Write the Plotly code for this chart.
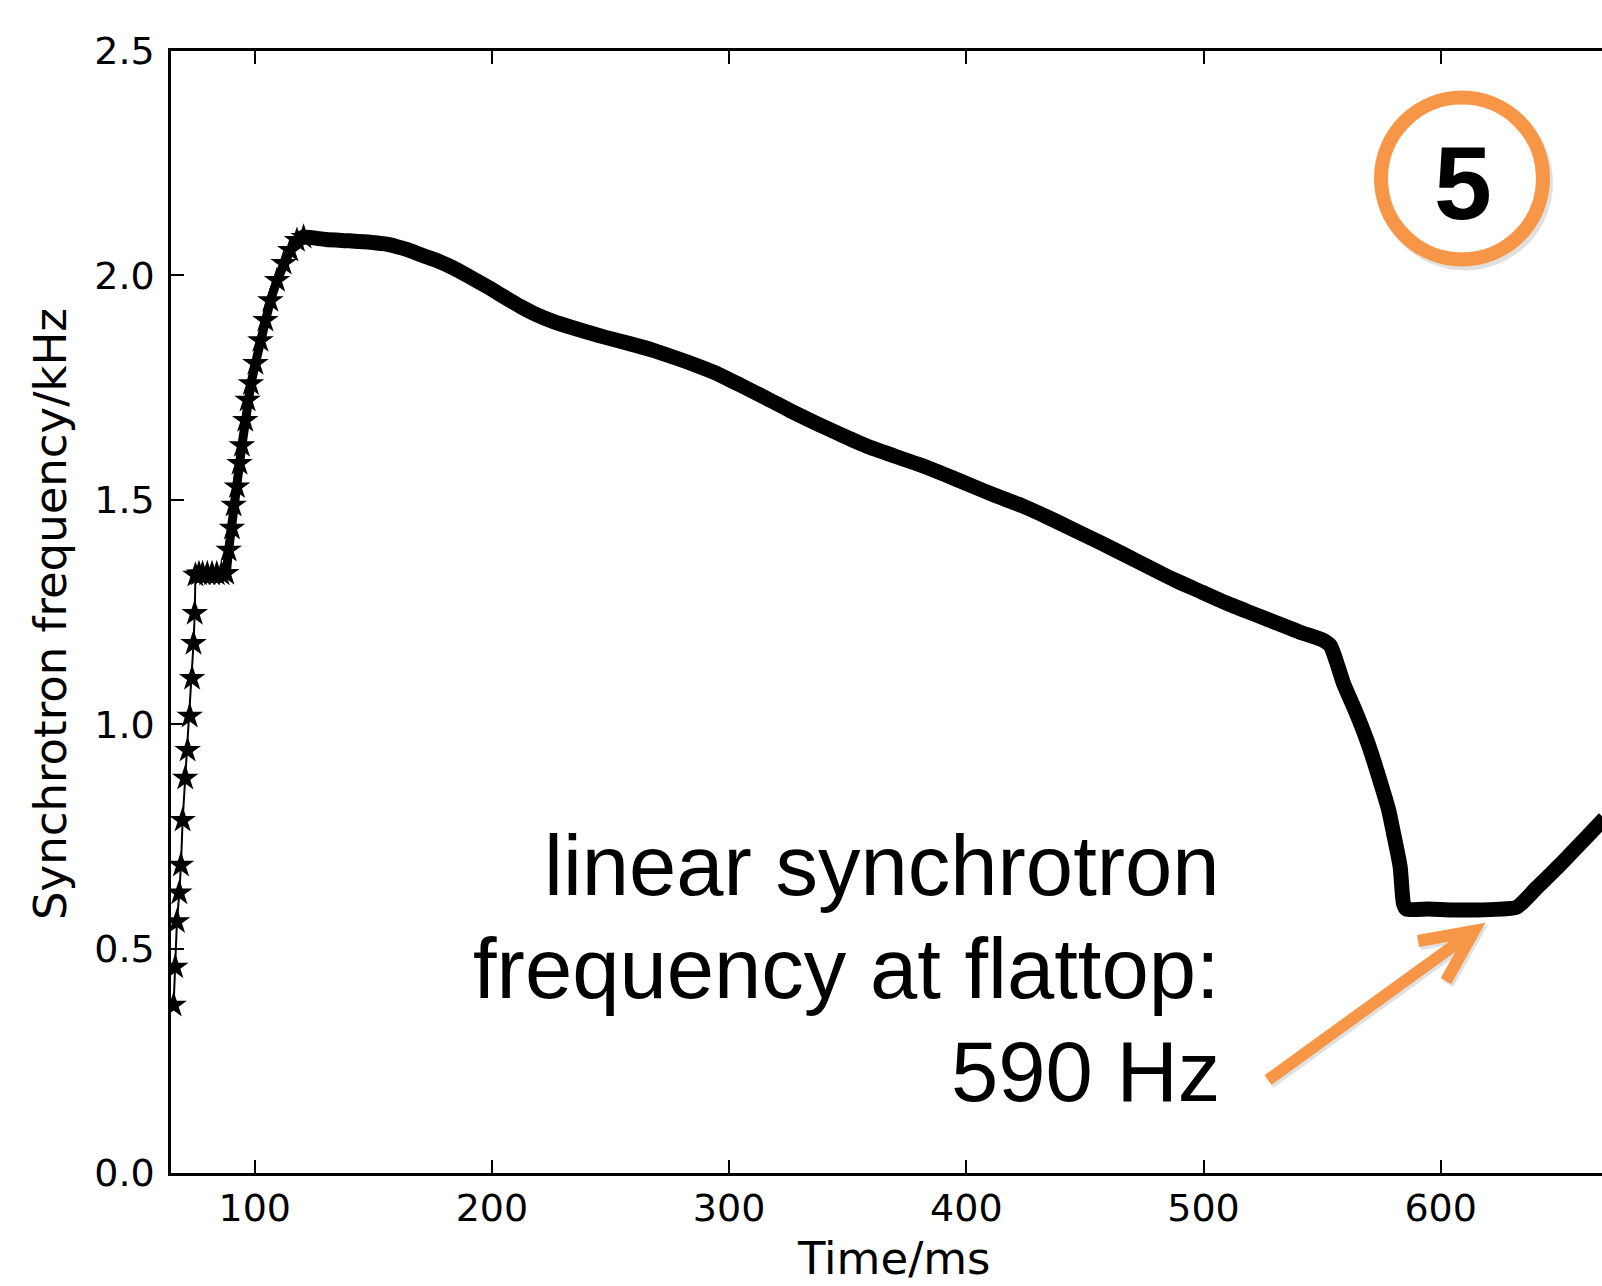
import plotly.graph_objects as go

# ---- data ----
time_ms = [65.8, 66.5, 67.2, 68.2, 68.9, 69.6, 70.7, 71.7, 72.6, 73.6, 74.2, 74.7, 75.0,
           76.5, 78.0, 80.0, 82.0, 84.0, 86.0, 88.0,
           89.0, 90.4, 91.1, 92.5, 93.6, 94.6, 96.0, 97.0, 98.4, 100.3, 102.4, 104.5,
           106.6, 109.4, 112.2, 115.0, 117.8, 120.6,
           130.0, 140.0, 148.7, 155.0, 160.0, 164.0, 168.0, 172.0, 176.8, 184.0, 190.9, 198.0,
           204.9, 212.0, 219.0, 226.0, 233.0, 240.0, 247.1, 258.0, 268.1, 277.0, 286.0,
           294.2, 305.0, 315.8, 326.0, 337.3, 348.0, 358.8, 370.0, 380.4, 391.0, 401.9,
           412.0, 423.4, 434.0, 445.0, 456.0, 466.5, 477.0, 488.0, 499.0, 509.6, 520.0,
           531.1, 540.7, 550.5, 553.5, 556.0, 559.0, 564.0, 568.9, 572.0, 575.2, 578.0,
           580.1, 582.9, 584.3, 585.5, 595.0, 605.0, 615.0, 625.0, 632.0, 640.0, 650.0,
           660.0, 669.0]
freq_khz = [0.374, 0.459, 0.560, 0.624, 0.686, 0.786, 0.880, 0.942, 1.018, 1.102, 1.180, 1.247, 1.332,
            1.335, 1.335, 1.335, 1.335, 1.335, 1.335, 1.336,
            1.388, 1.437, 1.488, 1.529, 1.581, 1.621, 1.677, 1.722, 1.759, 1.804, 1.855, 1.900,
            1.944, 1.989, 2.027, 2.056, 2.078, 2.085,
            2.080, 2.077, 2.074, 2.070, 2.064, 2.058, 2.050, 2.042, 2.033, 2.016, 1.996, 1.975,
            1.953, 1.931, 1.912, 1.897, 1.885, 1.874, 1.863, 1.848, 1.833, 1.817, 1.800,
            1.783, 1.755, 1.726, 1.698, 1.669, 1.643, 1.618, 1.597, 1.578, 1.556, 1.532,
            1.510, 1.487, 1.462, 1.434, 1.406, 1.378, 1.350, 1.321, 1.295, 1.270, 1.248,
            1.225, 1.205, 1.187, 1.175, 1.140, 1.091, 1.030, 0.964, 0.915, 0.860, 0.810,
            0.757, 0.682, 0.600, 0.588, 0.588, 0.586, 0.586, 0.588, 0.592, 0.633, 0.685,
            0.740, 0.790]

x_ticks = [100, 200, 300, 400, 500, 600]
y_ticks = [0.0, 0.5, 1.0, 1.5, 2.0, 2.5]
x_title = "Time/ms"
y_title = "Synchrotron frequency/kHz"
note_lines = ["linear synchrotron", "frequency at flattop:", "590 Hz"]
badge = "5"

# ---- layout geometry (pixels) ----
W, H = 1602, 1286
L, R, T, B = 171, 0, 51, 113
PW, PH = W - L - R, H - T - B
ORANGE = "#F79646"


def px(xp):
    return (xp - L) / PW


def py(yp):
    return (H - B - yp) / PH


fig = go.Figure()

early = [i for i, t in enumerate(time_ms) if t <= 75.0]
ramp = [i for i, t in enumerate(time_ms) if 75.0 <= t <= 120.6]
main = [i for i, t in enumerate(time_ms) if t >= 117.8]

fig.add_trace(go.Scatter(
    x=[time_ms[i] for i in ramp], y=[freq_khz[i] for i in ramp],
    mode="lines", line=dict(color="black", width=9), hoverinfo="skip"))
fig.add_trace(go.Scatter(
    x=[time_ms[i] for i in main], y=[freq_khz[i] for i in main],
    mode="lines", line=dict(color="black", width=15, shape="spline", smoothing=0.6),
    hoverinfo="skip"))
stars = early + ramp[1:]
fig.add_trace(go.Scatter(
    x=[time_ms[i] for i in stars], y=[freq_khz[i] for i in stars],
    mode="lines+markers", line=dict(color="black", width=2),
    marker=dict(symbol="star", size=20, color="black")))

# ---- decorations: badge circle and arrow ----
cx, cy, rr = 1462, 178.5, 81
shapes = [
    dict(type="circle", xref="paper", yref="paper",
         x0=px(cx - rr + 3), x1=px(cx + rr + 3), y0=py(cy + rr + 4), y1=py(cy - rr + 4),
         line=dict(color="rgba(0,0,0,0.12)", width=14)),
    dict(type="circle", xref="paper", yref="paper",
         x0=px(cx - rr), x1=px(cx + rr), y0=py(cy + rr), y1=py(cy - rr),
         line=dict(color=ORANGE, width=14), fillcolor="white"),
]
tail, head = (1268, 1080), (1474, 931)
barb1, barb2 = (1418, 941), (1446, 981)


def arrow_path(dx=0, dy=0):
    p = lambda q: f"{px(q[0] + dx):.5f},{py(q[1] + dy):.5f}"
    return (f"M{p(tail)} L{p(head)} M{p(barb1)} L{p(head)} L{p(barb2)}")


shapes.append(dict(type="path", xref="paper", yref="paper", path=arrow_path(2, 3),
                   line=dict(color="rgba(0,0,0,0.12)", width=12)))
shapes.append(dict(type="path", xref="paper", yref="paper", path=arrow_path(),
                   line=dict(color=ORANGE, width=12)))

annotations = [
    dict(text=f"<b>{badge}</b>", x=px(1463), y=py(183), xref="paper", yref="paper",
         showarrow=False, xanchor="center", yanchor="middle",
         font=dict(family="Liberation Sans, Arial", size=104, color="black")),
]
line_mid = [866, 969, 1071]
for txt, ym in zip(note_lines, line_mid):
    annotations.append(dict(text=txt, x=px(1222), y=py(ym), xref="paper", yref="paper",
                            showarrow=False, xanchor="right", yanchor="middle",
                            font=dict(family="Liberation Sans, Arial", size=85, color="black")))
annotations.append(dict(text=x_title, x=px(894), y=py(1258), xref="paper", yref="paper",
                        showarrow=False, xanchor="center", yanchor="middle",
                        font=dict(family="DejaVu Sans", size=45, color="black")))
annotations.append(dict(text=y_title, x=px(51), y=py(614), xref="paper", yref="paper",
                        showarrow=False, xanchor="center", yanchor="middle", textangle=-90,
                        font=dict(family="DejaVu Sans", size=45, color="black")))

fig.update_layout(
    width=W, height=H, margin=dict(l=L, r=R, t=T, b=B),
    paper_bgcolor="white", plot_bgcolor="white", showlegend=False,
    shapes=shapes, annotations=annotations,
    font=dict(family="DejaVu Sans", size=38, color="black"),
)
fig.update_xaxes(range=[64.7, 668], tickvals=x_ticks, ticktext=[str(v) for v in x_ticks],
                 ticks="inside", ticklen=13, tickwidth=1.5, tickcolor="black",
                 showline=True, linecolor="black", linewidth=2.5, mirror="ticks",
                 showgrid=False, zeroline=False,
                 tickfont=dict(family="DejaVu Sans", size=38, color="black"))
fig.update_yaxes(range=[0, 2.5], tickvals=y_ticks, ticktext=[f"{v:.1f}" for v in y_ticks],
                 ticks="inside", ticklen=13, tickwidth=1.5, tickcolor="black",
                 showline=True, linecolor="black", linewidth=2.5, mirror=False,
                 showgrid=False, zeroline=False, ticklabelstandoff=6,
                 tickfont=dict(family="DejaVu Sans", size=38, color="black"))

fig.write_html("out.html")
